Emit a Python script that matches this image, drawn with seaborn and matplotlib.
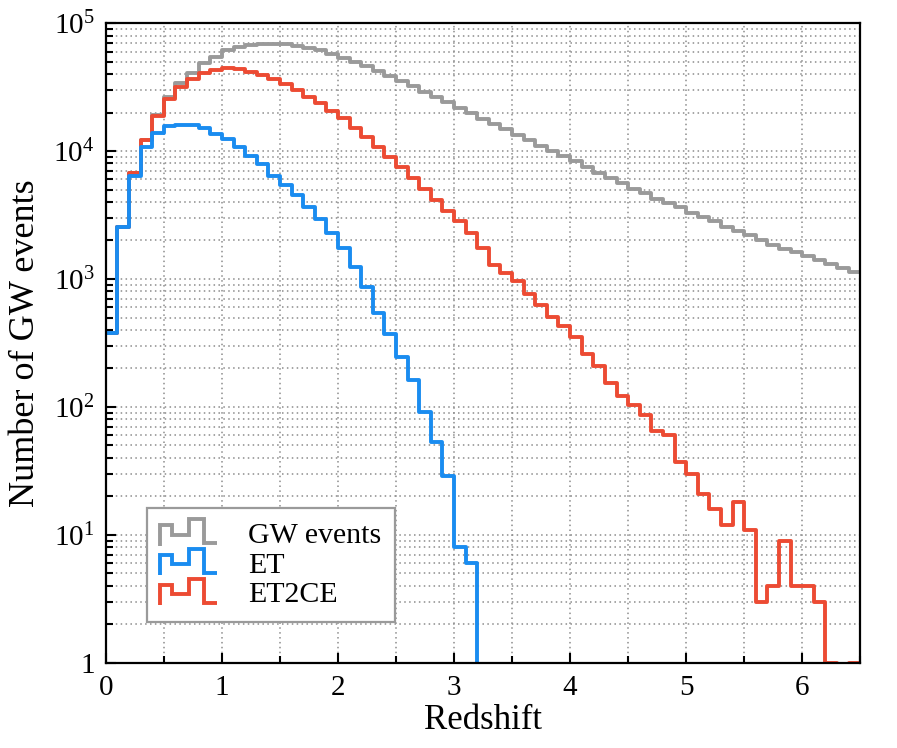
import numpy as np
import pandas as pd
import matplotlib
matplotlib.use("Agg")
import matplotlib.pyplot as plt
import seaborn as sns
from matplotlib.lines import Line2D
from matplotlib.legend_handler import HandlerBase
from matplotlib.ticker import MultipleLocator, LogLocator, FuncFormatter, NullFormatter

# redshift bins: width 0.1 from 0 to 6.5
z_min, z_max, z_step = 0.0, 6.5, 0.1

# counts per redshift bin
gw_events = [380, 2560, 6800, 12300, 19000, 26500, 33800, 40900, 48400, 54600,
             61500, 65300, 67700, 69200, 69200, 68500, 66100, 63800, 61500, 57600,
             53500, 50000, 46500, 42500, 38500, 35400, 32200, 29100, 26600, 24200,
             21800, 19700, 17900, 16300, 14800, 13400, 12200, 10900, 10000, 9140,
             8300, 7450, 6800, 6200, 5600, 5080, 4670, 4240, 3900, 3630,
             3260, 3030, 2820, 2560, 2390, 2200, 2020, 1850, 1730, 1630,
             1510, 1410, 1310, 1220, 1130]
et = [380, 2560, 6380, 10800, 13900, 15700, 16100, 15900, 15100, 13700,
      12500, 10800, 9120, 7910, 6380, 5400, 4560, 3670, 2940, 2270,
      1750, 1250, 871, 545, 372, 247, 163, 91, 53, 29,
      8, 6] + [0] * 33
et2ce = [380, 2560, 6770, 12200, 18800, 25600, 31800, 36700, 40900, 42900,
         44600, 43500, 41900, 39400, 36700, 33400, 30000, 26500, 23600, 20400,
         18100, 15200, 12900, 10800, 9030, 7450, 6150, 5020, 4140, 3420,
         2820, 2300, 1750, 1290, 1120, 959, 764, 623, 502, 429,
         350, 259, 209, 155, 122, 103, 87, 65, 60, 37,
         30, 21, 16, 12, 18, 11, 3, 4, 9, 4,
         4, 3, 1, 0, 1]

labels = ["GW events", "ET", "ET2CE"]
colors = {"GW events": "#9a9a9a", "ET": "#1a8cf0", "ET2CE": "#ec4b33"}

n_bins = len(gw_events)
centers = z_min + z_step * (np.arange(n_bins) + 0.5)
df = pd.DataFrame({
    "z": np.tile(centers, 3),
    "n": gw_events + et + et2ce,
    "det": np.repeat(labels, n_bins),
})

sns.set_style("ticks")
plt.rcParams["font.family"] = ["Liberation Serif", "DejaVu Serif"]
plt.rcParams["mathtext.fontset"] = "custom"
plt.rcParams["mathtext.rm"] = "Liberation Serif"
plt.rcParams["mathtext.it"] = "Liberation Serif:italic"
for key in ["text.color", "axes.labelcolor", "xtick.color", "ytick.color",
            "xtick.labelcolor", "ytick.labelcolor"]:
    plt.rcParams[key] = "black"


class StepHandler(HandlerBase):
    # legend glyph shaped like a little step histogram
    def create_artists(self, legend, orig_handle, xdescent, ydescent,
                       width, height, fontsize, trans):
        fx = np.array([0, 0, 0.21, 0.21, 0.51, 0.51, 0.77, 0.77, 1.0])
        fy = np.array([0.0, 0.77, 0.77, 0.42, 0.42, 1.0, 1.0, 0.08, 0.08])
        h = height * 1.2
        x = -xdescent + fx * width
        y = -ydescent + (height - h) / 2 + fy * h
        ln = Line2D(x, y, color=orig_handle.get_color(),
                    lw=orig_handle.get_linewidth(), solid_joinstyle="miter",
                    solid_capstyle="butt", transform=trans)
        return [ln]


fig, ax = plt.subplots(figsize=(8.97, 7.48), dpi=100)
fig.subplots_adjust(left=0.118, right=0.959, top=0.969, bottom=0.114)

zorders = {"GW events": 2, "ET2CE": 3, "ET": 4}
for name in ["GW events", "ET2CE", "ET"]:
    sub = df[df["det"] == name]
    sns.histplot(data=sub, x="z", weights="n", binwidth=z_step,
                 binrange=(z_min, z_max), element="step", fill=False,
                 color=colors[name], linewidth=2.8, ax=ax,
                 zorder=zorders[name])

ax.set_yscale("log")
ax.set_xlim(z_min, z_max)
ax.set_ylim(1, 1e5)

ax.xaxis.set_major_locator(MultipleLocator(1))
ax.xaxis.set_minor_locator(MultipleLocator(0.5))
ax.yaxis.set_major_locator(LogLocator(base=10, numticks=10))
ax.yaxis.set_minor_locator(LogLocator(base=10, subs=np.arange(2, 10), numticks=20))
ax.yaxis.set_major_formatter(FuncFormatter(
    lambda v, p: "1" if v == 1 else r"$10^{%d}$" % round(np.log10(v))))
ax.yaxis.set_minor_formatter(NullFormatter())

ax.grid(True, which="both", axis="both", color="#8c8c8c",
        linestyle=(0, (1, 2.2)), linewidth=1.1, zorder=0)
ax.set_axisbelow(True)

ax.tick_params(which="both", direction="in", top=False, right=False,
               width=1.5, color="black")
ax.tick_params(which="major", length=7, labelsize=21, pad=8)
ax.tick_params(which="minor", length=5)
ax.tick_params(axis="x", which="major", pad=9)
for s in ax.spines.values():
    s.set_linewidth(1.6)
    s.set_color("black")
    s.set_zorder(5)

ax.set_xlabel("Redshift", fontsize=25, labelpad=2)
ax.set_ylabel("Number of GW events", fontsize=26, labelpad=8)

handles = [Line2D([], [], color=colors[n], lw=2.8) for n in labels]
leg = ax.legend(handles, labels, handler_map={Line2D: StepHandler()},
                loc="lower left", bbox_to_anchor=(0.054, 0.064),
                borderaxespad=0, fontsize=21.5, frameon=True, fancybox=False,
                edgecolor="#9a9a9a", framealpha=1, handlelength=1.9,
                handleheight=0.75, handletextpad=1.05, labelspacing=0.08,
                borderpad=0.45)
leg.get_frame().set_linewidth(1.6)
leg.set_zorder(6)

fig.savefig("out.png", dpi=100)
